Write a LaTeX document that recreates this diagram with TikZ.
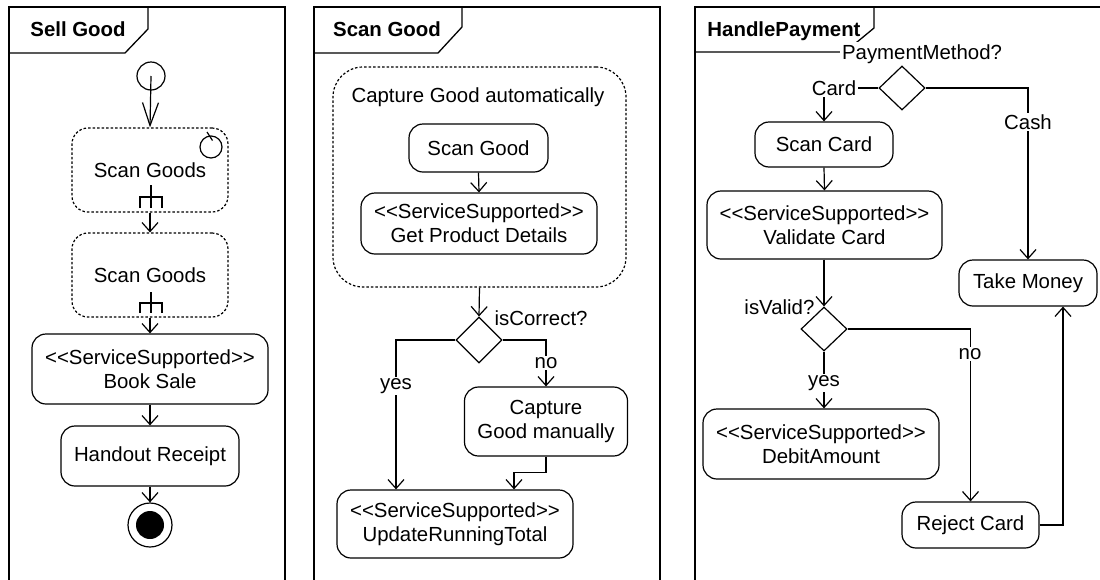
\documentclass[tikz,border=0pt]{standalone}
\usepackage{fontspec}
\setmainfont{Liberation Sans}
\usetikzlibrary{arrows.meta,shapes.geometric,calc}
\newcommand{\stereo}[1]{<{}<#1>{}>}
\begin{document}
\begin{tikzpicture}[x=1pt,y=-1pt,
  every node/.style={font=\fontsize{20.4}{24}\selectfont},
  line width=1.2pt,
  act/.style={draw, rounded corners=14pt, align=center, inner sep=0pt},
  dotbox/.style={draw, dash pattern=on 2.5pt off 2pt, rounded corners=#1, align=center, inner sep=0pt},
  dotbox/.default=16pt,
  dec/.style={draw, diamond, inner sep=0pt, minimum width=46pt, minimum height=#1},
  dec/.default=46pt,
  arr/.style={-{Straight Barb[length=9pt,width=16pt]}},
  bigarr/.style={-{Straight Barb[length=23pt,width=16pt]}},
  lbl/.style={fill=white, inner sep=1.5pt},
  tabtitle/.style={font=\fontsize{20.4}{24}\selectfont\bfseries},
  frameline/.style={line width=1.3pt}
]
\useasboundingbox (0,0) rectangle (1100,579);
\fill[white] (0,0) rectangle (1100,579);
\clip (0,0) rectangle (1100,579);

% ---------------- frames ----------------
\draw[frameline] (9,585) -- (9,7) -- (285,7) -- (285,585);
\draw[frameline] (9,53) -- (125,53) -- (148,29) -- (148,7);
\node[tabtitle] (t1) at (78,29) {Sell Good};

\draw[frameline] (314,585) -- (314,7) -- (660,7) -- (660,585);
\draw[frameline] (314,53) -- (438,53) -- (462,27) -- (462,7);
\node[tabtitle] (t2) at (387,29) {Scan Good};

\draw[frameline] (695,585) -- (695,7) -- (1105,7);
\draw[frameline] (695,52) -- (845,52) -- (874,28) -- (874,7);
\node[tabtitle] (t3) at (784,31) {HandlePayment};

% ---------------- Sell Good ----------------
\node[draw, circle, inner sep=0pt, minimum size=28pt] (init) at (151,76) {};
\node[dotbox, minimum width=156pt, minimum height=84pt] (sg1) at (150,170) {Scan Goods};
\node[dotbox, minimum width=156pt, minimum height=84pt] (sg2) at (150,275) {Scan Goods};
\node[act, minimum width=236pt, minimum height=70pt] (book) at (150,369) {\stereo{ServiceSupported}\\Book Sale};
\node[act, minimum width=178pt, minimum height=60pt] (hand) at (150,456) {Handout Receipt};
\node[draw, circle, inner sep=0pt, minimum size=44pt] (fin) at (150,525) {};
\fill (fin.center) circle (14pt);

% loop marker of the first action
\node[draw, circle, inner sep=0pt, minimum size=22pt] (loop) at (211,147) {};
\draw (207,132) -- (212.5,140.5);

% call-behaviour rakes
\draw (151,185) -- (151,208) (140,208) -- (140,197) -- (162,197) -- (162,208);
\draw (151,292) -- (151,313) (140,313) -- (140,303) -- (162,303) -- (162,313);

\draw[bigarr] (init.center) -- (sg1.north);
\draw[arr] (sg1.south) -- (sg2.north);
\draw[arr] (sg2.south) -- (book.north);
\draw[arr] (book.south) -- (hand.north);
\draw[arr] (hand.south) -- (fin.north);

% ---------------- Scan Good ----------------
\node[dotbox=30pt, minimum width=293pt, minimum height=220pt] (auto) at (479.5,177) {};
\node (autotitle) at (478,97) {Capture Good automatically};
\node[act, minimum width=139pt, minimum height=48pt] (sgood) at (478.5,148) {Scan Good};
\node[act, minimum width=236pt, minimum height=61pt] (gpd) at (479,223.5) {\stereo{ServiceSupported}\\Get Product Details};
\node[dec] (dec1) at (479,340) {};
\node[anchor=west, inner sep=0pt] (iscorrect) at (494,318) {isCorrect?};
\node[act, minimum width=163pt, minimum height=69pt] (manual) at (546,421.5) {Capture\\Good manually};
\node[act, minimum width=236pt, minimum height=68pt] (update) at (455,524) {\stereo{ServiceSupported}\\UpdateRunningTotal};
\coordinate (yesx) at (396,0);

\draw[arr] (sgood.south) -- (gpd.north);
\draw[arr] (auto.south) -- (dec1.north);
\draw[arr] (dec1.west) -| (yesx |- update.north);
\draw[arr] (dec1.east) -| (manual.north);
\draw[arr] (manual.south) -- ++(0,16) -| ($(update.north)+(59,0)$);
\node[lbl] (yes1) at (396,386) {yes};
\node[lbl] (no1) at (546,363) {no};

% ---------------- HandlePayment ----------------
\node[lbl, inner sep=2pt] (pm) at (922,54) {PaymentMethod?};
\node[dec=44pt] (dec2) at (902,88) {};
\node[act, minimum width=138pt, minimum height=45pt] (scancard) at (824,144.5) {Scan Card};
\node[act, minimum width=235pt, minimum height=68pt] (validate) at (824.5,225) {\stereo{ServiceSupported}\\Validate Card};
\node[dec=44pt] (dec3) at (824,329) {};
\node[anchor=east, inner sep=0pt] (isvalid) at (815,307) {isValid?};
\node[act, minimum width=236pt, minimum height=70pt] (debit) at (821,444) {\stereo{ServiceSupported}\\DebitAmount};
\node[act, minimum width=137pt, minimum height=46pt] (reject) at (970.5,525) {Reject Card};
\node[act, minimum width=138pt, minimum height=46pt] (take) at (1028,283) {Take Money};

\draw[arr] (dec2.west) -| (scancard.north);
\draw[arr] (dec2.east) -| (take.north);
\draw[arr] (scancard.south) -- (validate.north);
\draw[arr] (validate.south -| dec3.north) -- (dec3.north);
\draw[arr] (dec3.south) -- (dec3.south |- debit.north);
\draw[arr] (dec3.east) -| (reject.north);
\draw[arr] (reject.east) -| ($(take.south)+(35,0)$);
\node[lbl] (card) at (834,88) {Card};
\node[lbl] (cash) at (1028,122) {Cash};
\node[lbl] (yes2) at (824,383) {yes};
\node[lbl] (no2) at (970,354) {no};
\end{tikzpicture}
\end{document}
